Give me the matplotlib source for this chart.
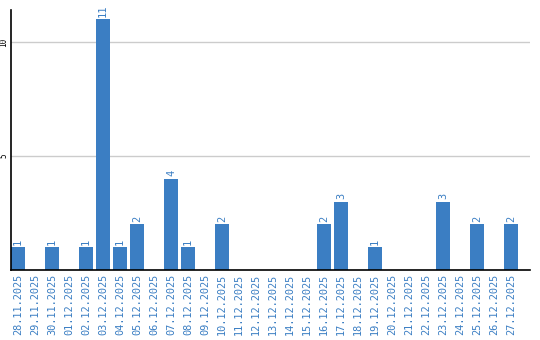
import matplotlib
matplotlib.use("Agg")
import matplotlib.pyplot as plt

dates = ['28.11.2025', '29.11.2025', '30.11.2025', '01.12.2025', '02.12.2025',
         '03.12.2025', '04.12.2025', '05.12.2025', '06.12.2025', '07.12.2025',
         '08.12.2025', '09.12.2025', '10.12.2025', '11.12.2025', '12.12.2025',
         '13.12.2025', '14.12.2025', '15.12.2025', '16.12.2025', '17.12.2025',
         '18.12.2025', '19.12.2025', '20.12.2025', '21.12.2025', '22.12.2025',
         '23.12.2025', '24.12.2025', '25.12.2025', '26.12.2025', '27.12.2025']
counts = [1, 0, 1, 0, 1, 11, 1, 2, 0, 4,
          1, 0, 2, 0, 0, 0, 0, 0, 2, 3,
          0, 1, 0, 0, 0, 3, 0, 2, 0, 2]

blue = '#3b7ec3'

fig = plt.figure(figsize=(5.4, 3.4), dpi=100)
ax = fig.add_axes([11/540, 1 - 270/340, 519/540, 260/340])

x = range(len(dates))
ax.bar(x, counts, width=0.82, color=blue, zorder=2)

# value labels above the non-empty bars
for i, c in enumerate(counts):
    if c > 0:
        ax.text(i, c + 0.1, str(c), rotation=90, ha='center', va='bottom',
                color=blue, fontsize=7.5, fontfamily='DejaVu Sans Mono')

ax.set_xlim(-0.41, 30.1)
ax.set_ylim(0, 11.4)
ax.set_yticks([5, 10])
ax.set_yticklabels(['5', '10'], rotation=90, va='center', fontsize=5.5,
                   fontfamily='DejaVu Sans Mono')
ax.set_xticks(list(x))
ax.set_xticklabels(dates, rotation=90, color=blue, fontsize=7.4,
                   fontfamily='DejaVu Sans Mono')
ax.tick_params(length=0, pad=2.5)
ax.tick_params(axis='y', pad=2)

ax.grid(axis='y', color='#cccccc', linewidth=1, zorder=0)
for s in ['top', 'right']:
    ax.spines[s].set_visible(False)
ax.spines['left'].set_linewidth(1.2)
ax.spines['bottom'].set_linewidth(1.2)

fig.savefig('out.png', dpi=100)
